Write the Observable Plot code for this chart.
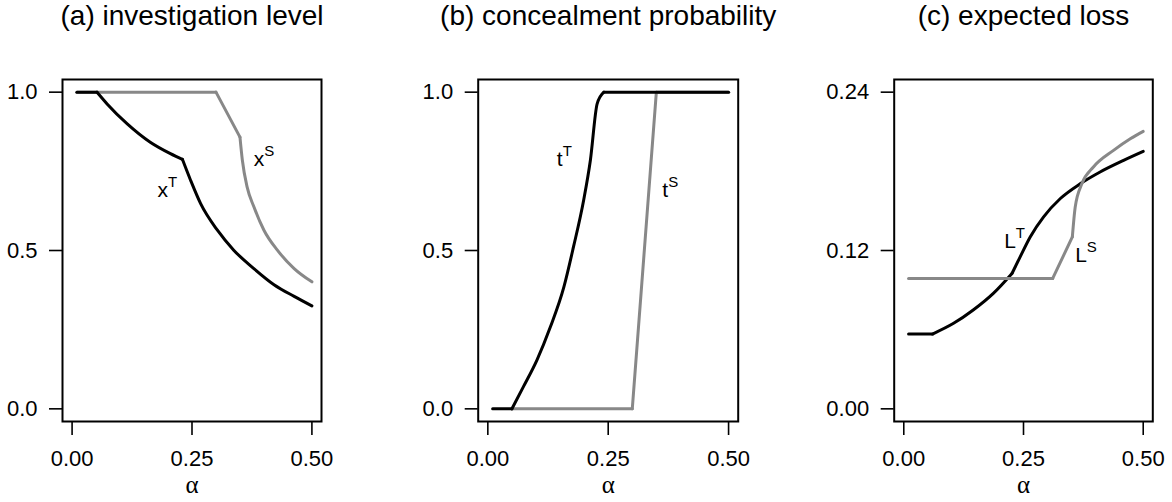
<!DOCTYPE html>
<html>
<head>
<meta charset="utf-8">
<script src="https://cdn.jsdelivr.net/npm/d3@7"></script>
<script src="https://cdn.jsdelivr.net/npm/@observablehq/plot@0.6"></script>
<style>
  html, body { margin: 0; padding: 0; background: #fff; }
  #wrap { display: flex; width: 1172px; height: 502px; }
</style>
</head>
<body>
<div id="wrap"></div>
<script>
// ---- data (alpha, value); each series split into pieces at its kinks ----
const titles = ["(a) investigation level", "(b) concealment probability", "(c) expected loss"];
const xTicks = [0, 0.25, 0.5];
const yTicksAB = [0, 0.5, 1];
const yTicksC = [0, 0.12, 0.24];

const xT = [
  [[0.01,1.0],[0.052,1.0]],
  [[0.052,1.0],[0.073,0.963],[0.115,0.900],[0.163,0.842],[0.205,0.806],[0.230,0.788]],
  [[0.230,0.788],[0.247,0.722],[0.268,0.648],[0.303,0.564],[0.337,0.501],[0.379,0.443],[0.421,0.392],[0.463,0.355],[0.50,0.325]]
];
const xS = [
  [[0.01,1.0],[0.30,1.0]],
  [[0.30,1.0],[0.35,0.858]],
  [[0.35,0.858],[0.355,0.785],[0.365,0.70],[0.379,0.638],[0.40,0.564],[0.428,0.501],[0.463,0.443],[0.50,0.401]]
];

const tT = [
  [[0.01,0],[0.05,0]],
  [[0.05,0],[0.074,0.070],[0.102,0.154],[0.130,0.259],[0.158,0.385],[0.178,0.512],[0.199,0.659],[0.213,0.785],[0.227,0.963],[0.241,1.0]],
  [[0.241,1.0],[0.50,1.0]]
];
const tS = [
  [[0.05,0],[0.30,0]],
  [[0.30,0],[0.35,1.0]],
  [[0.35,1.0],[0.50,1.0]]
];

const LT = [
  [[0.01,0.0567],[0.06,0.0567]],
  [[0.06,0.0567],[0.104,0.0648],[0.145,0.0749],[0.187,0.0875],[0.226,0.1026]],
  [[0.226,0.1026],[0.243,0.1152],[0.264,0.1303],[0.292,0.1455],[0.327,0.1594],[0.369,0.1707],[0.41,0.1795],[0.459,0.1883],[0.50,0.1951]]
];
const LS = [
  [[0.01,0.0988],[0.311,0.0988]],
  [[0.311,0.0988],[0.352,0.1303]],
  [[0.352,0.1303],[0.358,0.153],[0.372,0.1707],[0.396,0.1833],[0.438,0.1959],[0.473,0.2047],[0.50,0.2103]]
];

// curve labels: base letter, superscript, position (alpha, value) of baseline-left
const labelsA = [{base:"x", sup:"T", a:0.178, v:0.668}, {base:"x", sup:"S", a:0.3785, v:0.766}];
const labelsB = [{base:"t", sup:"T", a:0.143, v:0.766}, {base:"t", sup:"S", a:0.3625, v:0.668}];
const labelsC = [{base:"L", sup:"T", a:0.2096, v:0.1218}, {base:"L", sup:"S", a:0.358, v:0.1112}];

const BLACK = "#000000", GRAY = "#888888";
const FONT = "'Liberation Sans', Arial, Helvetica, sans-serif";
const baseAdvance = {x: 10.5, t: 6, L: 11.5};

function panel({title, lines, yDomain, yTicks, yFmt, labels, width, ml, mr}) {
  const marks = [];
  for (const ln of lines) {
    for (const piece of ln.data) {
      marks.push(Plot.line(piece, {x: d => d[0], y: d => d[1], stroke: ln.color, strokeWidth: 3,
        curve: piece.length > 2 ? "monotone-x" : "linear", strokeLinejoin: "round", strokeLinecap: "round"}));
    }
  }
  for (const lb of labels) {
    marks.push(Plot.text([lb], {x: "a", y: "v", text: "base", textAnchor: "start", lineAnchor: "bottom", fontSize: 21, fill: "#000"}));
    marks.push(Plot.text([lb], {x: "a", y: "v", text: "sup", textAnchor: "start", lineAnchor: "bottom", fontSize: 15, dx: baseAdvance[lb.base], dy: -10, fill: "#000"}));
  }
  marks.push(Plot.frame({stroke: "#000", strokeWidth: 2}));
  marks.push(Plot.axisX({ticks: xTicks, tickFormat: d3.format(".2f"), tickSize: 14, tickPadding: 15, fontSize: 22, label: null, strokeWidth: 1.6}));
  marks.push(Plot.axisY({ticks: yTicks, tickFormat: d3.format(yFmt), tickSize: 13, tickPadding: 12, fontSize: 22, label: null, strokeWidth: 1.6}));
  marks.push(Plot.text([title], {frameAnchor: "top", lineAnchor: "middle", dy: -63, fontSize: 28, text: d => d, fill: "#000"}));
  marks.push(Plot.text(["α"], {frameAnchor: "bottom", lineAnchor: "bottom", dy: 71, fontSize: 25, fontFamily: "'Liberation Serif', 'DejaVu Serif', serif", text: d => d, fill: "#000"}));
  return Plot.plot({
    width, height: 502,
    marginTop: 79, marginBottom: 81, marginLeft: ml, marginRight: mr,
    style: {fontFamily: FONT, fontSize: "21px", background: "#fff", color: "#000"},
    x: {domain: [-0.02, 0.52]},
    y: {domain: yDomain},
    marks
  });
}

const wrap = document.getElementById("wrap");
wrap.append(panel({title: titles[0], lines: [{data: xS, color: GRAY}, {data: xT, color: BLACK}], yDomain: [-0.04, 1.04], yTicks: yTicksAB, yFmt: ".1f", labels: labelsA, width: 391, ml: 62, mr: 70}));
wrap.append(panel({title: titles[1], lines: [{data: tS, color: GRAY}, {data: tT, color: BLACK}], yDomain: [-0.04, 1.04], yTicks: yTicksAB, yFmt: ".1f", labels: labelsB, width: 390, ml: 86.7, mr: 43.3}));
wrap.append(panel({title: titles[2], lines: [{data: LT, color: BLACK}, {data: LS, color: GRAY}], yDomain: [-0.0096, 0.2496], yTicks: yTicksC, yFmt: ".2f", labels: labelsC, width: 391, ml: 112.7, mr: 19.7}));
</script>
</body>
</html>
